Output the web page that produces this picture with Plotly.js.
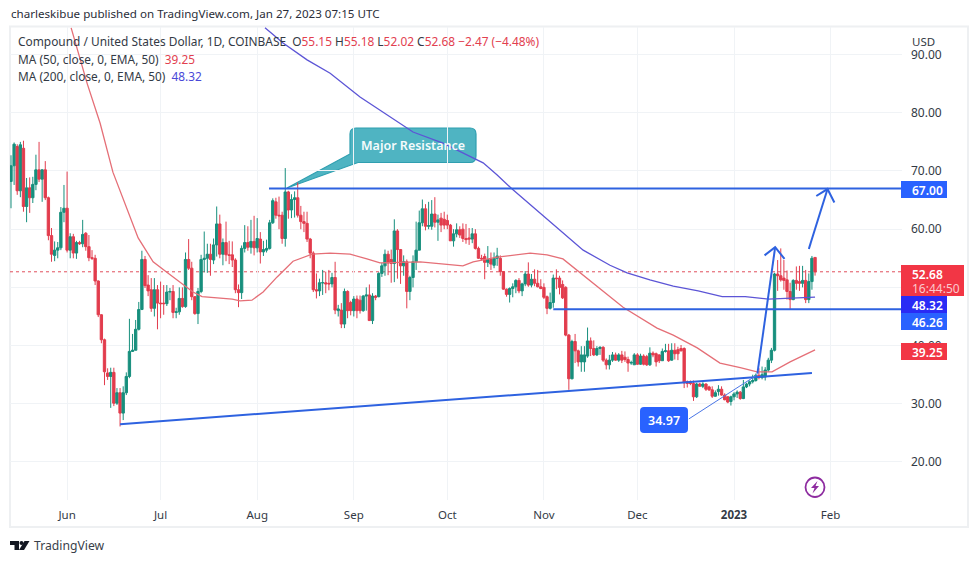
<!DOCTYPE html>
<html><head><meta charset="utf-8">
<script src="https://cdn.plot.ly/plotly-3.0.1.min.js"></script>
<style>html,body{margin:0;padding:0;background:#fff}#c{width:979px;height:563px}</style>
</head><body><div id="c"></div>
<script>
// Daily candles, one per day starting at firstDay
const firstDay = Date.UTC(2022,4,14);
const opens = [
68.2,70.9,74.2,66.6,73.9,63.9,67.1,65.4,67.7,70.2,
68.6,70.2,65.4,58.9,55.5,56.4,56.8,62.9,63.6,56.4,
58.7,55.9,57.7,57.5,59.3,57,55.1,55,51.1,45.3,
41,35.3,34.7,35.4,30.1,31.9,28.4,31.9,34.7,39,
39.2,42.8,46.2,54.8,50.4,49.6,46.4,49.6,47.3,47.3,
47.2,49.2,49.3,45.7,45.8,48.1,46.7,54.8,53.3,48.4,
45.5,49.3,54.8,55,55.7,54.7,57.3,60.9,55.7,57.7,
55.6,55.6,54.7,49.6,49.1,56.7,57.7,56.9,57.9,56.8,
58.3,56.1,56.4,56.7,61.1,64.7,62.4,62.4,58.4,66.4,
63.3,65.1,65.4,62.4,61.3,61,58.3,55.9,49.6,49.4,
50.8,50.8,50.7,50.6,51.7,46,46.1,43.7,49.3,47.4,
46,48,47.8,46,48.5,48.7,44.3,48.5,48.4,52.4,
53.7,55.7,54.8,54.1,59.7,56.5,53.7,54.4,49.3,51.7,
54.4,56.4,61.1,63.5,60.5,60.5,62.6,61.2,61.9,61.7,
61.5,60.7,58,59.2,59.9,60,58.4,58.5,58.3,59.2,
56.7,55,55.3,54.3,54.8,53.8,55,55,52.7,49.7,
48.8,49.8,50.1,51.2,49.4,50.6,52.3,50.4,51.4,50.7,
50.1,50,48.4,46.4,47.4,51.6,51.6,50.5,50,41.8,
34.3,40.7,39.1,37.2,37.2,38.2,40.8,39.5,38.4,39.5,
39.7,37.5,36.7,37.5,38.4,37.5,38.4,38,37.6,37,
36.7,38.4,36.8,38.2,38.1,36.7,38.7,38.6,38.4,37.4,
39,39.1,37.5,39.2,39.3,39.5,39.5,33.8,33.7,33.5,
31.2,33.4,33,33.4,32.9,32.4,31.3,32.1,32.5,31.5,
31.2,30.4,31.2,31.7,32,30.9,32.9,33.4,33.8,34,
34.9,34.5,34.6,35.8,37.5,39.2,52.3,52,51.6,51.3,
49.3,47.9,51.2,51,50.7,51.2,47.9,51,55.15];
const highs = [
72.7,74.9,74.6,75,75.2,68.8,68.9,69,72.8,75,
70.3,71.7,65.6,60.2,57.9,57.8,63.8,67.6,69.9,59.3,
59.2,58,58,61.6,59.5,59,56.4,55.6,51.2,45.4,
41.2,36.1,36.2,36.2,32.7,32.7,33,35.4,44.6,42,
44.4,47.5,56.3,55.4,52.1,51.6,51.6,50.4,51,50.4,
50.4,49.9,50.4,46.5,50,50,56,58.3,54.4,48.5,
49.9,55.6,59.6,57.5,57.5,58.4,63.9,62.5,58.4,61.3,
58,57.9,55,50.5,57.2,60.7,60.5,61.6,62.3,61.9,
59.5,58,58.2,61.6,65.3,65.4,65.6,63,70.5,66.6,
66,66.5,68,64,63,63,58.5,56.2,52.4,51.5,
53,52.7,53,52.5,54.4,47,47.3,49.8,49.5,47.7,
48.5,48.6,48.6,48.7,50,50.5,49,48.7,52.6,54.2,
56.5,56.3,56.5,61.7,60,56.6,55.5,54.8,52,55.5,
61.3,63.2,65.1,64.3,64.7,65,65.5,62.5,62.8,63,
62.5,60.9,60,61,60.5,61,60.9,60.2,60.2,60,
57,55.6,55.8,57.1,56,56,56.8,55.5,52.8,49.8,
50,50.7,51.4,51.6,50.8,52.8,54.3,52.3,53.1,53,
51.4,50.7,48.6,49.1,52.2,53.1,52,51.2,50.2,42,
41,42,39.3,39.9,39.9,43.1,41.4,40.9,39.9,39.9,
39.9,37.8,38.4,38.9,38.8,38.7,39.1,39,38.1,37.4,
38.7,38.7,38.6,38.5,38.4,39.7,39,38.8,38.5,39.5,
40.3,40.3,40.4,40.4,39.8,40.1,39.7,34,34,34,
33.6,33.6,33.7,33.5,33.1,33,32.3,33.2,33,31.8,
31.3,31.4,32,32.3,32.2,34.1,33.6,34,35,35.2,
36.1,36.4,36.3,37.9,39.6,52.5,54.7,56.7,54.7,52.9,
50.8,51.4,53.6,53.7,53.7,53,52.4,55.4,55.18];
const lows = [
63.6,67.6,65.9,65.5,63,61.2,62.8,64.5,66.7,68.1,
64.7,65,58.1,54.4,54.5,55,56.4,61.2,56,55,
55,54.9,57.3,56.9,56.3,54.5,54.7,50.4,44.9,40.4,
33.2,34.1,29.3,29.6,29.8,26.1,27.2,31.5,34.4,38.9,
39.2,42.6,46.1,49.9,48.5,45.8,45,42.8,44.7,45.3,
46.8,47.8,44.7,44.7,45.3,46.5,46.5,53,47.8,45.3,
43.7,49,52.6,52.5,52,54,55.3,55,53.8,54.5,
54,53.5,49,46.6,48,56,56.3,55.8,55.5,56,
54.1,55.4,56,56.5,60.9,61.8,60,57.5,57,61.8,
61.9,62,62,60,59.5,57.8,55,49.2,48.1,48.5,
48.7,49,49.5,50,45.4,45,43,43,44.7,45.2,
45,44.7,45.5,45.8,46,44.3,43.7,47.8,48.3,51.8,
52,52.1,50.8,50.9,51.5,50.6,52,46.4,47.8,50,
53,56.4,60.5,59.8,60,59.9,60.3,58,59.5,60,
60,58,57,58.6,58.5,57.8,57.5,57.3,57.6,56.5,
54.9,54.6,51.4,53.5,53,53.3,53.7,52,49.6,48.4,
47.4,48.3,49,49,48.5,50.2,50.1,50,50.2,50,
49.7,48,45.4,46.2,46.5,49.7,48.8,48,41.6,32.4,
34.2,37,36.4,35.5,35.5,37.9,38.2,38.2,38.2,38.4,
37.2,35.9,35.9,37.2,37.4,37.2,37,37.2,35.5,36.7,
36.7,36.7,36.7,36.6,36.5,36.5,38,36.4,37,37.4,
38.8,37.2,37.4,37.6,37.5,39,32.7,32.8,33.2,30.5,
31,33,32.7,32.2,32.2,31,31.2,31.4,31.4,30.6,
30.1,29.7,30.6,31,30.7,30.8,32.7,33,33.5,33.8,
34.2,34.2,34,35.5,37,39,49.4,51,49.6,47.9,
46.2,47.8,49.6,49.4,50,47.3,47.3,49.6,52.02];
const closes = [
70.9,74.6,66.6,74.5,63.9,67.1,65.4,67.7,70.2,68.6,
70.2,65.4,58.9,55.7,56.4,56.8,62.9,63.6,56.4,58.7,
55.9,57.7,57.5,59.1,57,55.1,55,51.1,45.3,41,
35.5,34.7,35.4,30.1,31.9,28.4,31.9,34.7,39,39.2,
42.8,46.2,54.8,50.3,49.4,46.4,49.6,47.3,47.2,47.2,
49.2,49.3,45.7,45.8,48.1,46.7,54.8,53.3,48.4,45.5,
49.3,54.8,55,55.7,54.8,57.3,60.9,55.7,57.7,55.6,
55.5,54.7,49.6,49.1,56.7,57.7,56.9,57.9,56.8,58.4,
56.1,56.5,56.7,61.1,64.9,62.4,62.3,58.4,66.4,63.3,
65.1,65.4,62.4,61.3,61,58.3,55.9,49.6,49.4,50.8,
50.8,50.6,50.6,51.7,46.1,46.3,43.7,49.3,46,46,
48,46,46,48.5,48.7,44.3,48.5,48.3,52.4,53.7,
55.7,54.2,54.1,59.7,56.5,53.7,54.4,49.3,51.7,54.4,
56.4,61.1,63.5,60.5,60.6,62.6,61.2,61.6,60.7,60.7,
60.7,58,59.2,59.9,59,58.4,58.2,58.3,59.2,56.7,
55,54.9,54.3,54.8,54,55,55.4,52.7,49.7,48.8,
49.8,50.1,51.2,49.4,50.6,52.3,50.4,51.4,50.7,50.1,
49.8,48.3,46.4,47.4,51.6,51.5,50,48.2,41.8,34.3,
40.7,39.1,37.2,38.4,38.4,40.8,39.5,38.4,39.5,39.7,
37.5,36.7,37.5,38.4,37.5,38.4,37.5,37.6,37,37.1,
38.4,36.8,38.2,36.8,36.7,38.7,38.4,37.2,37.4,39,
39.1,37.4,39.2,38.6,38.6,39.1,33.6,33.5,33.5,31.2,
33.4,33,33.4,32.5,32.4,31.3,31.9,32.5,31.5,30.7,
30.3,31.2,31.7,32,30.9,32.9,33.4,33.8,34,34.9,
34.5,35,35.8,37.5,39.2,52.3,52,51.3,51.2,49.3,
47.9,51.2,50.7,50.7,51.2,47.9,51,55,52.68];

// Moving averages: day offsets from firstDay and prices
const ma50Days = [19.3,24.4,28.6,32.7,40.8,45.6,50,55.2,58.4,61.3,66,71,73.5,77.3,80.9,85.4,90.5,96.6,102.4,108.8,114.2,118.4,131.3,139.9,145,148.3,156,166.6,172,177.1,182.6,188,196.4,207.3,212.5,220.2,227.5,234,239.4,244.2,250,258];
const ma50Vals = [94.6,85.1,78.2,69.8,58.5,54.4,52.6,50.4,49.2,48.4,48.2,48,47.7,47.8,49.2,51.8,54.5,55.7,55.9,55.7,54.9,54.2,54.4,54,53.7,54.4,55.2,55.9,55.6,54.9,52.5,50.1,46.6,43,41.8,39.6,37,36.2,35.5,35.5,37.2,39.25];
const ma200Days = [81.5,87.3,95,102.4,112,123.2,129,138.6,145,151.5,156,160.8,167.5,175.2,183.6,192.2,197.7,205,212.5,220.5,228.2,235.6,243,258];
const ma200Vals = [94.6,92,89.1,86.8,82.7,78.8,76.7,74.8,73.1,71.4,69.3,66.9,63.8,60.2,56.4,53.8,52.5,51.3,50.2,49.4,48.4,48.4,48,48.32];

// Drawn tools (day offset, price)
const resistanceDays = [82.8,286], resistancePrice = [67,67];
const supportDays = [174,286], supportPrice = [46.26,46.26];
const trendDays = [35,257], trendPrice = [26.5,35.3];
const calloutLineDays = [217.5,239.5], calloutLinePrice = [27.4,35];
const arrow1Days = [239.5,245.2], arrow1Price = [35.2,56.9];
const arrow1HeadDays = [241.8,245.2,248.2], arrow1HeadPrice = [55.5,56.9,54.9];
const arrow2Days = [256,262], arrow2Price = [56.6,66.9];
const arrow2HeadDays = [258.4,262,264.2], arrow2HeadPrice = [65.7,66.9,64.6];

const tickDates = ['2022-06-01','2022-07-01','2022-08-01','2022-09-01','2022-10-01','2022-11-01','2022-12-01','2023-01-01','2023-02-01'];
const tickNames = ['Jun','Jul','Aug','Sep','Oct','Nov','Dec','<b>2023</b>','Feb'];
const priceTicks = [20,30,40,50,60,70,80,90];

const FONT = '"Noto Sans", sans-serif';
const BLUE = '#2e62e0';
const RED = '#f23645';
const day = d => new Date(firstDay + d*86400000).toISOString().slice(0,19).replace('T',' ');
const L=10,R=902,T=27,B=500;
const px = x => (x-L)/(R-L);
const py = y => (B-y)/(B-T);
const dates = closes.map((_,i)=>day(i));
const lineTrace = (ds,vs,color,width) => ({type:'scatter',mode:'lines',x:ds.map(day),y:vs,
  line:{color:color,width:width},hoverinfo:'skip',showlegend:false});

const traces = [
 {type:'candlestick',x:dates,open:opens,high:highs,low:lows,close:closes,showlegend:false,whiskerwidth:0,
  increasing:{line:{color:'#178f7d',width:1},fillcolor:'#178f7d'},
  decreasing:{line:{color:'#e23c4d',width:1},fillcolor:'#e23c4d'}},
 lineTrace(ma50Days,ma50Vals,'#e56f77',1.3),
 lineTrace(ma200Days,ma200Vals,'#5c55d6',1.3),
 lineTrace(resistanceDays,resistancePrice,BLUE,2),
 lineTrace(supportDays,supportPrice,BLUE,2),
 lineTrace(trendDays,trendPrice,BLUE,2),
 lineTrace(calloutLineDays,calloutLinePrice,'#4a76e6',1),
 lineTrace(arrow1Days,arrow1Price,BLUE,2),
 lineTrace(arrow1HeadDays,arrow1HeadPrice,BLUE,2),
 lineTrace(arrow2Days,arrow2Price,BLUE,2),
 lineTrace(arrow2HeadDays,arrow2HeadPrice,BLUE,2)
];

const rectPath = (x0,y0,x1,y1,r) => `M${px(x0+r)},${py(y0)} L${px(x1-r)},${py(y0)} Q${px(x1)},${py(y0)} ${px(x1)},${py(y0+r)} L${px(x1)},${py(y1-r)} Q${px(x1)},${py(y1)} ${px(x1-r)},${py(y1)} L${px(x0+r)},${py(y1)} Q${px(x0)},${py(y1)} ${px(x0)},${py(y1-r)} L${px(x0)},${py(y0+r)} Q${px(x0)},${py(y0)} ${px(x0+r)},${py(y0)} Z`;
const poly = pts => 'M'+pts.map(p=>px(p[0])+','+py(p[1])).join(' L')+' Z';
const box = (x0,y0,x1,y1,color) => ({type:'rect',xref:'paper',yref:'paper',x0:px(x0),x1:px(x1),y0:py(y0),y1:py(y1),fillcolor:color,line:{width:0},layer:'above'});

const shapes = [
 // outer frame
 {type:'rect',xref:'paper',yref:'paper',x0:px(10),x1:px(968),y0:py(527),y1:py(26.5),line:{color:'#eef0f2',width:2},fillcolor:'rgba(0,0,0,0)',layer:'below'},
 // last price dotted line
 {type:'line',xref:'paper',yref:'y',x0:0,x1:1,y0:52.68,y1:52.68,line:{color:'#e0505c',width:1,dash:'dot'},layer:'below'},
 // Major Resistance callout
 {type:'path',xref:'paper',yref:'paper',layer:'below',fillcolor:'#4fb4c2',line:{color:'#2f9fb0',width:1.2},
  path:`M${px(356)},${py(128)} L${px(470)},${py(128)} Q${px(476)},${py(128)} ${px(476)},${py(134)} L${px(476)},${py(156)} Q${px(476)},${py(162.5)} ${px(470)},${py(162.5)} L${px(358)},${py(162.5)} L${px(287)},${py(188)} L${px(350)},${py(154)} L${px(350)},${py(134)} Q${px(350)},${py(128)} ${px(356)},${py(128)} Z`},
 // price labels
 box(901,181,947,198,'#2962ff'),
 box(901,265,964,296,RED),
 box(901,296,947,313,'#2a2bf5'),
 box(901,313,947,330,'#2962ff'),
 box(901,343,947,360,RED),
 // 34.97 label
 {type:'path',xref:'paper',yref:'paper',layer:'above',fillcolor:'#2962ff',line:{width:0},path:rectPath(640,407,688,433,4)},
 // lightning icon
 {type:'circle',xref:'paper',yref:'paper',x0:px(805.5),x1:px(824.5),y0:py(497),y1:py(477.5),line:{color:'#8e2ca0',width:1.8},fillcolor:'rgba(0,0,0,0)'},
 {type:'path',xref:'paper',yref:'paper',fillcolor:'#8e2ca0',line:{width:0},path:poly([[817.5,481],[811,488],[814.5,488],[812.5,493.5],[819,486],[815.5,486]])},
 // TradingView logo
 {type:'path',xref:'paper',yref:'paper',fillcolor:'#131722',line:{width:0},path:poly([[10,541],[19,541],[19,550],[14.5,550],[14.5,545],[10,545]])},
 {type:'circle',xref:'paper',yref:'paper',x0:px(19.5),x1:px(23.5),y0:py(545),y1:py(541),fillcolor:'#131722',line:{width:0}},
 {type:'path',xref:'paper',yref:'paper',fillcolor:'#131722',line:{width:0},path:poly([[24.5,541],[29.5,541],[24,550],[19,550]])}
];

const ann = (x,y,text,size,color,extra) => Object.assign({xref:'paper',yref:'paper',x:px(x),y:py(y),text:text,showarrow:false,xanchor:'left',yanchor:'middle',
  font:{family:FONT,size:size,color:color},borderpad:0},extra||{});
const r = s => `<span style="color:#e2404f">${s}</span>`;
const annotations = [
 ann(9.5,13.5,'charleskibue published on TradingView.com, Jan 27, 2023 07:15 UTC',11.6,'#2a2e39'),
 ann(17,41,'Compound / United States Dollar, 1D, COINBASE  O'+r('55.15')+' H'+r('55.18')+' L'+r('52.02')+' C'+r('52.68')+' '+r('−2.47 (−4.48%)'),11.9,'#333a45'),
 ann(17,59,'MA (50, close, 0, EMA, 50)  '+r('39.25'),11.85,'#333a45'),
 ann(17,76,'MA (200, close, 0, EMA, 50)  <span style="color:#4a48d8">48.32</span>',11.85,'#333a45'),
 ann(911,41,'USD',11.5,'#333a45'),
 ann(412.5,145,'Major Resistance',12.5,'#f4fbfc',{xanchor:'center',font:{family:FONT,size:12.5,color:'#f4fbfc',weight:600}}),
 ann(664,420,'34.97',12.5,'#ffffff',{xanchor:'center',font:{family:FONT,size:12.5,color:'#ffffff',weight:600}}),
 ann(911,190,'67.00',12,'#ffffff',{font:{family:FONT,size:12,color:'#ffffff',weight:600}}),
 ann(911,274,'52.68',12,'#ffffff',{font:{family:FONT,size:12,color:'#ffffff',weight:600}}),
 ann(911,288,'16:44:50',12,'#fbc9cd'),
 ann(911,305,'48.32',12,'#ffffff',{font:{family:FONT,size:12,color:'#ffffff',weight:600}}),
 ann(911,322,'46.26',12,'#ffffff',{font:{family:FONT,size:12,color:'#ffffff',weight:600}}),
 ann(911,352,'39.25',12,'#ffffff',{font:{family:FONT,size:12,color:'#ffffff',weight:600}}),
 ann(32.5,545.5,'TradingView',12.2,'#3a3f4a')
];

const layout = {
 width:979,height:563,autosize:false,paper_bgcolor:'#fff',plot_bgcolor:'#fff',showlegend:false,
 margin:{l:L,r:979-R,t:T,b:563-B,pad:0},
 font:{family:FONT,size:11.5,color:'#333a45'},
 boxgap:0.25,boxgroupgap:0,
 xaxis:{type:'date',range:[day(-0.32),day(285.9)],tickmode:'array',tickvals:tickDates,ticktext:tickNames,
   showgrid:true,gridcolor:'#f0f3f6',gridwidth:1,zeroline:false,showline:false,ticks:'',ticklabelstandoff:6,
   rangeslider:{visible:false},tickangle:0,tickfont:{family:FONT,size:11.5,color:'#333a45'}},
 yaxis:{side:'right',range:[13.47,94.74],tickmode:'array',tickvals:priceTicks,ticktext:priceTicks.map(v=>v.toFixed(2)),
   showgrid:true,gridcolor:'#f0f3f6',gridwidth:1,zeroline:false,showline:false,ticks:'',ticklabelstandoff:8,
   tickfont:{family:FONT,size:12,color:'#333a45'}},
 shapes:shapes,annotations:annotations
};
Plotly.newPlot('c',traces,layout,{displayModeBar:false,staticPlot:true});
</script></body></html>
